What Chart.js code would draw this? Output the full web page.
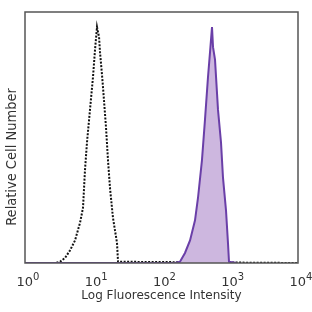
<!DOCTYPE html>
<html>
<head>
<meta charset="utf-8">
<script src="https://cdn.jsdelivr.net/npm/chart.js@4"></script>
<style>
  html, body { margin: 0; padding: 0; background: #fff; }
  #wrap { width: 312px; height: 312px; }
</style>
</head>
<body>
<div id="wrap"><canvas id="histChart" width="312" height="312"></canvas></div>
<script>
// x values are log10(intensity), y is relative cell number (0-100)
const controlLog = [0.0, 0.45, 0.513, 0.586, 0.659, 0.733, 0.806, 0.850, 0.879, 0.908, 0.952, 0.996, 1.026, 1.055, 1.085, 1.099, 1.128, 1.143, 1.187, 1.216, 1.245, 1.289, 1.348, 1.363, 4.0];
const controlCount = [0, 0, 0.5, 2, 5, 9, 16, 22, 37, 48, 61, 74, 85, 94, 90, 84, 75, 70, 54, 41, 30, 18, 8, 0.5, 0];

const stainedLog = [0.0, 2.198, 2.271, 2.344, 2.418, 2.491, 2.535, 2.593, 2.637, 2.681, 2.711, 2.740, 2.755, 2.784, 2.828, 2.872, 2.901, 2.945, 2.974, 2.989, 3.1];
const stainedCount = [0, 0, 0.5, 4, 9, 17, 26, 41, 57, 74, 84, 94, 86, 81, 61, 48, 34, 21, 8, 0.5, 0];

const decadeTicks = [0, 1, 2, 3, 4];
const decadeExps = ['0', '1', '2', '3', '4'];

const toPoints = (xs, ys) => xs.map((x, i) => ({ x, y: ys[i] }));

// frame, power-of-ten tick labels and rotated y title
const decorPlugin = {
    id: 'decor',
    afterDraw(chart) {
        const { ctx, chartArea: a } = chart;
        const xs = chart.scales.x;
        ctx.save();
        ctx.strokeStyle = '#555';
        ctx.lineWidth = 1.5;
        ctx.strokeRect(a.left, a.top, a.right - a.left, a.bottom - a.top);

        ctx.fillStyle = '#333';
        ctx.textBaseline = 'alphabetic';
        decadeTicks.forEach((v, i) => {
            const px = xs.getPixelForValue(v);
            ctx.font = '13px "DejaVu Sans"';
            const baseW = ctx.measureText('10').width;
            ctx.font = '10px "DejaVu Sans"';
            const expW = ctx.measureText(decadeExps[i]).width;
            const left = px - (baseW + expW) / 2 + 3;
            ctx.font = '13px "DejaVu Sans"';
            ctx.textAlign = 'left';
            ctx.fillText('10', left, 286);
            ctx.font = '10px "DejaVu Sans"';
            ctx.fillText(decadeExps[i], left + baseW, 280);
        });

        ctx.translate(12, 157);
        ctx.rotate(-Math.PI / 2);
        ctx.textAlign = 'center';
        ctx.textBaseline = 'middle';
        ctx.font = '14.5px "DejaVu Sans Condensed"';
        ctx.fillText('Relative Cell Number', 0, 0);
        ctx.restore();
    }
};

const ctx = document.getElementById('histChart').getContext('2d');
new Chart(ctx, {
    type: 'line',
    data: {
        datasets: [
            {
                label: 'Stained',
                data: toPoints(stainedLog, stainedCount),
                borderColor: '#6a3fa8',
                backgroundColor: '#cdb7df',
                borderWidth: 2,
                fill: 'origin',
                pointRadius: 0,
                tension: 0
            },
            {
                label: 'Control',
                data: toPoints(controlLog, controlCount),
                borderColor: '#111',
                borderWidth: 2,
                borderDash: [2, 1.5],
                fill: false,
                pointRadius: 0,
                tension: 0
            }
        ]
    },
    options: {
        responsive: false,
        animation: false,
        layout: { padding: { top: 12, right: 14, left: 0, bottom: 0 } },
        plugins: {
            legend: { display: false },
            tooltip: { enabled: false }
        },
        scales: {
            x: {
                type: 'linear',
                min: 0,
                max: 4,
                grid: { display: false },
                border: { display: false },
                afterFit: (axis) => { axis.height = 49; },
                ticks: { display: false },
                title: {
                    display: true,
                    text: 'Log Fluorescence Intensity',
                    color: '#333',
                    font: { family: 'DejaVu Sans', size: 12 },
                    padding: { top: 0, bottom: 9 }
                }
            },
            y: {
                min: 0,
                max: 100,
                grid: { display: false },
                border: { display: false },
                afterFit: (axis) => { axis.width = 25; },
                ticks: { display: false }
            }
        }
    },
    plugins: [decorPlugin]
});
</script>
</body>
</html>
